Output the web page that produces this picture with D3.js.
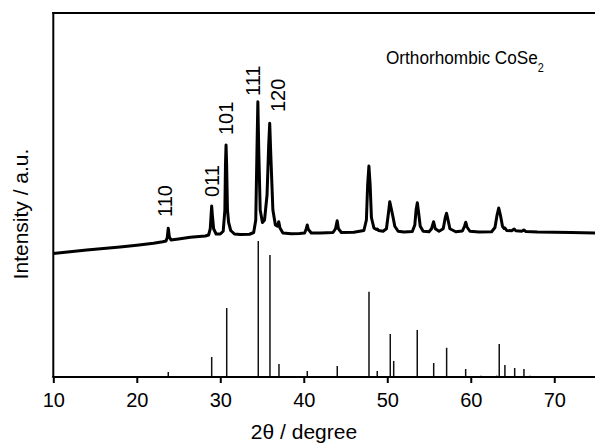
<!DOCTYPE html>
<html>
<head>
<meta charset="utf-8">
<script src="https://cdn.jsdelivr.net/npm/d3@7"></script>
<style>
  html, body { margin: 0; padding: 0; background: #fff; }
  svg { display: block; font-family: Arial, "Liberation Sans", sans-serif; }
</style>
</head>
<body>
<svg id="chart" width="595" height="443"></svg>
<script>
// ---------- data ----------
// measured XRD pattern: 2theta (deg) and intensity (a.u.)
const curveAngles = [10.0,12,14,16,18,20,22,23.1,23.5,23.65,23.77,23.9,24.1,25,26.4,28.2,28.6,28.8,28.9,28.97,29.05,29.2,29.5,30.0,30.35,30.55,30.62,30.69,30.76,30.86,31.0,31.25,31.7,32.4,33.5,34.0,34.25,34.4,34.5,34.6,34.78,35.05,35.3,35.6,35.8,35.92,36.05,36.3,36.6,36.85,37.0,37.15,37.5,38.5,39.5,40.1,40.3,40.42,40.55,40.9,42,43.5,43.8,44.0,44.15,44.5,46,47.2,47.5,47.65,47.8,47.95,48.1,48.4,48.7,48.8,48.95,49.5,49.9,50.15,50.3,50.45,50.7,50.9,51.3,52,53.0,53.3,53.45,53.6,53.75,53.95,54.3,55.0,55.3,55.55,55.75,56.2,56.7,56.95,57.1,57.25,57.5,58.2,59.0,59.25,59.4,59.55,59.9,61,62.5,62.9,63.15,63.35,63.55,63.8,64.0,64.1,64.3,64.9,65.2,65.4,66.1,66.35,66.6,68,70,72,75];
const curveIntensity = [26,33,40,46,52,59,67,73,76,90,127,92,80,84,91,96,100,125,180,216,180,125,104,104,115,200,380,460,380,200,150,118,104,102,103,110,160,450,633,450,200,150,160,260,460,547,420,200,140,135,153,128,108,105,106,108,125,140,122,108,108,110,125,157,125,110,111,118,160,300,376,300,170,128,122,124,118,115,125,190,233,210,170,135,115,112,114,140,200,229,190,135,115,113,125,153,125,115,125,170,187,165,125,113,116,135,151,132,115,112,113,130,180,208,180,135,126,128,118,117,124,117,115,120,114,112,111,110,108];

// reference pattern (stick lines): 2theta and relative intensity
const refAngles = [23.77,28.97,30.77,34.55,35.95,37.03,40.42,44.01,47.81,48.80,50.36,50.77,53.59,55.56,57.11,59.39,61.22,63.10,63.41,64.09,65.26,66.37,67.09];
const refIntensity = [3.7,14.7,50.7,100,89.7,9.6,4.4,8.1,62.7,4.4,31.6,11.8,34.6,10.3,21.5,5.9,1,1,24.3,8.8,6.6,5.9,1];

// x-axis ticks
const xTicks = [10,20,30,40,50,60,70];

// Miller index labels: text, centre angle, bottom level (curve intensity units)
const millerText = ["110","011","101","111","120"];
const millerAngle = [23.32,28.97,30.68,33.95,36.9];
const millerLevel = [172,252,500,656,592];

// ---------- drawing ----------
const svg = d3.select("#chart");
const pLeft = 53.3, pRight = 596, pTop = 13, pBottom = 377;

const x = d3.scaleLinear().domain([10, 75]).range([pLeft, pRight]);
const yRef = d3.scaleLinear().domain([0, 100]).range([pBottom, 241]);
const yCurve = d3.scaleLinear().domain([0, 1000]).range([260, 10]);

// frame (left and top lines)
svg.append("line").attr("x1", pLeft).attr("x2", pLeft).attr("y1", pTop - 1).attr("y2", pBottom)
  .attr("stroke", "#000").attr("stroke-width", 2);
svg.append("line").attr("x1", pLeft - 1).attr("x2", 595).attr("y1", pTop).attr("y2", pTop)
  .attr("stroke", "#000").attr("stroke-width", 2);

// reference sticks
svg.append("g").selectAll("line").data(refAngles).join("line")
  .attr("x1", d => x(d)).attr("x2", d => x(d))
  .attr("y1", yRef(0)).attr("y2", (d, i) => yRef(refIntensity[i]))
  .attr("stroke", "#111").attr("stroke-width", 1.5);

// x axis
const axis = d3.axisBottom(x).tickValues(xTicks).tickSize(6).tickSizeOuter(0).tickPadding(10)
  .tickFormat(d3.format("d"));
const gx = svg.append("g").attr("transform", `translate(0,${pBottom})`).call(axis);
gx.select(".domain").remove();
gx.selectAll(".tick line").attr("stroke", "#000").attr("stroke-width", 2);
gx.selectAll(".tick text").attr("fill", "#000").style("font-size", "20px")
  .style("font-family", "Arial, 'Liberation Sans', sans-serif");
svg.append("line").attr("x1", pLeft - 1).attr("x2", 595).attr("y1", pBottom).attr("y2", pBottom)
  .attr("stroke", "#000").attr("stroke-width", 2);

// measured curve
const pts = curveAngles.map((a, i) => [a, curveIntensity[i]]);
svg.append("path").datum(pts)
  .attr("d", d3.line().x(d => x(d[0])).y(d => yCurve(d[1])).curve(d3.curveLinear))
  .attr("fill", "none").attr("stroke", "#000").attr("stroke-width", 3)
  .attr("stroke-linejoin", "round");

// Miller labels (rotated)
const capH = 20 * 0.716;
svg.append("g").selectAll("text").data(millerText).join("text")
  .attr("transform", (d, i) => `translate(${x(millerAngle[i]) + capH / 2},${yCurve(millerLevel[i])}) rotate(-90)`)
  .attr("text-anchor", "start")
  .style("font-size", "20px").attr("fill", "#000")
  .text(d => d);

// phase label
const lbl = svg.append("text").attr("transform", "translate(386,64) scale(0.905,1)")
  .style("font-size", "19px").attr("fill", "#000");
lbl.append("tspan").text("Orthorhombic CoSe");
lbl.append("tspan").attr("dy", 8).style("font-size", "12px").text("2");

// axis titles
svg.append("text").attr("x", 304).attr("y", 439).attr("text-anchor", "middle")
  .style("font-size", "21px").attr("fill", "#000").text("2θ / degree");
svg.append("text").attr("transform", "translate(28,214) rotate(-90)").attr("text-anchor", "middle")
  .style("font-size", "21px").attr("fill", "#000").text("Intensity / a.u.");
</script>
</body>
</html>
